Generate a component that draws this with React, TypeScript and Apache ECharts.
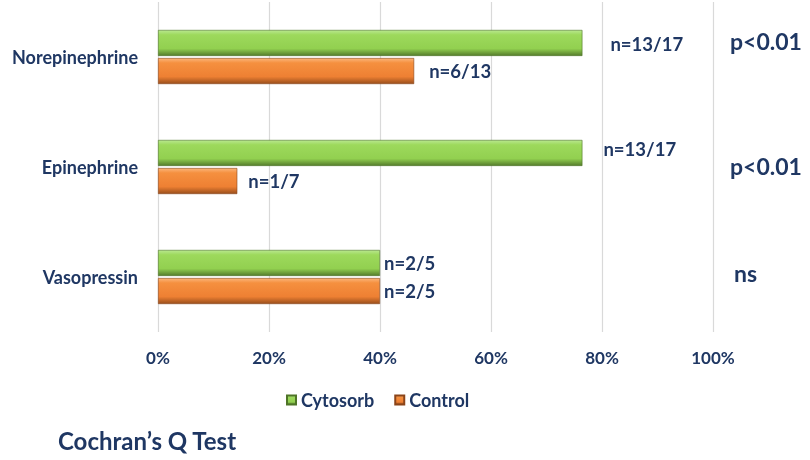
import React, { useEffect, useRef } from "react";
import * as echarts from "echarts";

const categories = ["Norepinephrine", "Epinephrine", "Vasopressin"];
const cytosorbHits = [13, 13, 2];
const cytosorbTotal = [17, 17, 5];
const controlHits = [6, 1, 2];
const controlTotal = [13, 7, 5];
const pValues = ["p<0.01", "p<0.01", "ns"];
const xTicks = [0, 20, 40, 60, 80, 100];

// label offsets (dx, dy) per bar
const cytosorbLabelOffsets = [[23, 1], [16, -4], [-1, 0]];
const controlLabelOffsets = [[10, 0], [6, 0], [-1, 0]];

const NAVY = "#1f3763";
const FONT = "Lato, 'Open Sans', sans-serif";

export default function App() {
  const ref = useRef<HTMLDivElement>(null);
  useEffect(() => {
    if (!ref.current) return;
    const chart = echarts.init(ref.current, null, { renderer: "svg" });

    const greenGrad = new echarts.graphic.LinearGradient(0, 0, 0, 1, [
      { offset: 0, color: "#b9e88f" },
      { offset: 0.18, color: "#9dd95c" },
      { offset: 0.72, color: "#92d050" },
      { offset: 1, color: "#557d2c" },
    ]);
    const orangeGrad = new echarts.graphic.LinearGradient(0, 0, 0, 1, [
      { offset: 0, color: "#fbb57a" },
      { offset: 0.18, color: "#f5903f" },
      { offset: 0.72, color: "#ee8033" },
      { offset: 1, color: "#9a4f1c" },
    ]);

    const mk = (hits: number[], total: number[], offs: number[][]) =>
      hits.map((h, i) => ({
        value: (h / total[i]) * 100,
        label: { offset: offs[i] },
        n: `n=${h}/${total[i]}`,
      }));

    const labelBase = {
      show: true,
      position: "right",
      distance: 5,
      color: NAVY,
      fontFamily: FONT,
      fontWeight: "bold",
      fontSize: 18.5,
    };

    const pY = [43, 168, 275];

    chart.setOption({
      animation: false,
      textStyle: { fontFamily: FONT },
      grid: { left: 158, right: 97, top: 2, height: 330, containLabel: false },
      xAxis: {
        type: "value",
        min: 0,
        max: 100,
        interval: 20,
        axisLine: { show: false },
        axisTick: { show: false },
        splitLine: { show: true, lineStyle: { color: "#d9d9d9", width: 1.2 } },
        axisLabel: {
          formatter: (v: number) => (xTicks.includes(v) ? `${v}%` : ""),
          color: NAVY,
          fontFamily: FONT,
          fontWeight: "bold",
          fontSize: 17,
          margin: 17,
        },
      },
      yAxis: {
        type: "category",
        data: categories,
        inverse: true,
        axisLine: { show: false },
        axisTick: { show: false },
        axisLabel: {
          color: NAVY,
          fontFamily: FONT,
          fontWeight: "bold",
          fontSize: 18,
          margin: 20,
        },
      },
      legend: {
        left: 281,
        top: 386,
        icon: "rect",
        itemWidth: 9,
        itemHeight: 9,
        itemGap: 20,
        textStyle: { color: NAVY, fontFamily: FONT, fontWeight: "bold", fontSize: 18 },
        data: ["Cytosorb", "Control"],
      },
      title: {
        text: "Cochran’s Q Test",
        left: 53,
        top: 423,
        textStyle: { color: NAVY, fontFamily: FONT, fontWeight: "bold", fontSize: 24 },
      },
      graphic: pValues.map((p, i) => ({
        type: "text",
        left: p === "ns" ? 734 : 730,
        top: pY[i] - 14,
        style: {
          text: p,
          fill: NAVY,
          font: `bold 23px ${FONT}`,
        },
      })),
      series: [
        {
          name: "Cytosorb",
          type: "bar",
          barWidth: 26,
          barGap: "8%",
          itemStyle: { color: greenGrad, borderColor: "#4e7427", borderWidth: 0.6 },
          label: { ...labelBase, formatter: (p: any) => p.data.n },
          data: mk(cytosorbHits, cytosorbTotal, cytosorbLabelOffsets),
        },
        {
          name: "Control",
          type: "bar",
          barWidth: 26,
          barGap: "8%",
          itemStyle: { color: orangeGrad, borderColor: "#8a4419", borderWidth: 0.6 },
          label: { ...labelBase, formatter: (p: any) => p.data.n },
          data: mk(controlHits, controlTotal, controlLabelOffsets),
        },
      ],
    });
    return () => chart.dispose();
  }, []);
  return (
    <div
      ref={ref}
      style={{ position: "fixed", left: 0, top: 0, width: 810, height: 460 }}
    />
  );
}
